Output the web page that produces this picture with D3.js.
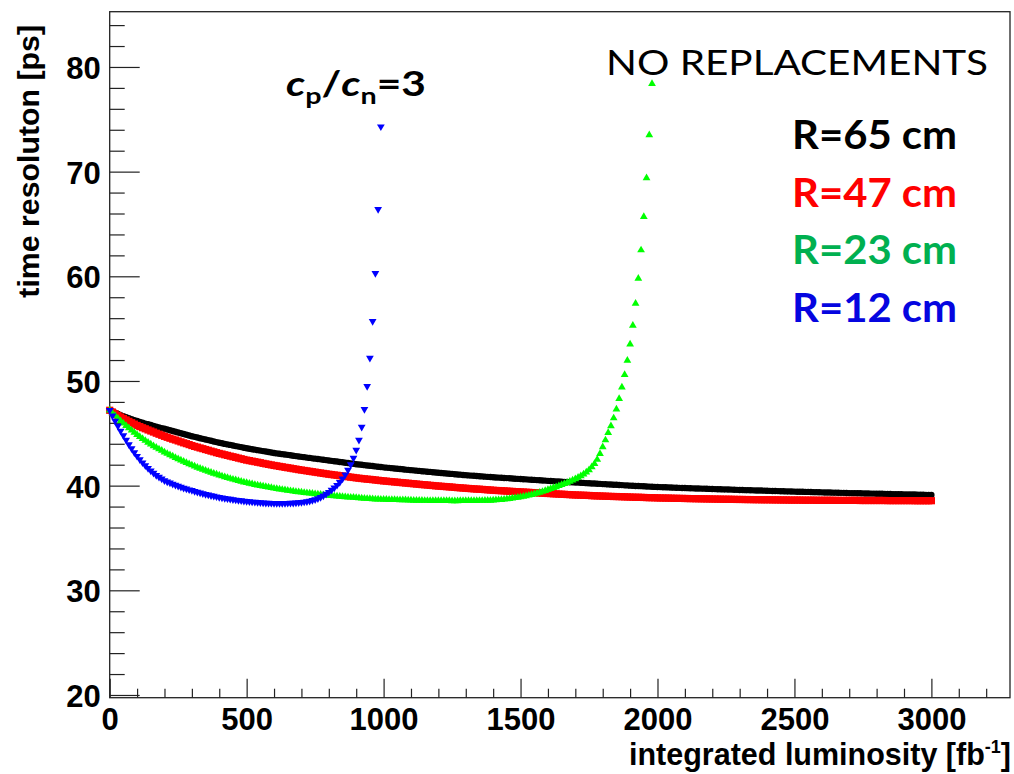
<!DOCTYPE html>
<html>
<head>
<meta charset="utf-8">
<script src="https://cdn.jsdelivr.net/npm/d3@7"></script>
<style>
body { margin: 0; background: #fff; }
</style>
</head>
<body>
<div id="chart"></div>
<script>
//integrated luminosity grid [fb-1], shared by all the series
var lumi = [
0,10,20,30,40,50,60,70,80,90,100,110,120,130,140,150,160,170,180,190,
200,210,220,230,240,250,260,270,280,290,300,310,320,330,340,350,360,370,380,390,
400,410,420,430,440,450,460,470,480,490,500,510,520,530,540,550,560,570,580,590,
600,610,620,630,640,650,660,670,680,690,700,710,720,730,740,750,760,770,780,790,
800,810,820,830,840,850,860,870,880,890,900,910,920,930,940,950,960,970,980,990,
1000,1010,1020,1030,1040,1050,1060,1070,1080,1090,1100,1110,1120,1130,1140,1150,1160,1170,1180,1190,
1200,1210,1220,1230,1240,1250,1260,1270,1280,1290,1300,1310,1320,1330,1340,1350,1360,1370,1380,1390,
1400,1410,1420,1430,1440,1450,1460,1470,1480,1490,1500,1510,1520,1530,1540,1550,1560,1570,1580,1590,
1600,1610,1620,1630,1640,1650,1660,1670,1680,1690,1700,1710,1720,1730,1740,1750,1760,1770,1780,1790,
1800,1810,1820,1830,1840,1850,1860,1870,1880,1890,1900,1910,1920,1930,1940,1950,1960,1970,1980,1990,
2000,2010,2020,2030,2040,2050,2060,2070,2080,2090,2100,2110,2120,2130,2140,2150,2160,2170,2180,2190,
2200,2210,2220,2230,2240,2250,2260,2270,2280,2290,2300,2310,2320,2330,2340,2350,2360,2370,2380,2390,
2400,2410,2420,2430,2440,2450,2460,2470,2480,2490,2500,2510,2520,2530,2540,2550,2560,2570,2580,2590,
2600,2610,2620,2630,2640,2650,2660,2670,2680,2690,2700,2710,2720,2730,2740,2750,2760,2770,2780,2790,
2800,2810,2820,2830,2840,2850,2860,2870,2880,2890,2900,2910,2920,2930,2940,2950,2960,2970,2980,2990,
3000];

//time resolution [ps], R=65 cm
var resR65 = [
47.20,47.08,46.96,46.85,46.74,46.64,46.54,46.44,46.35,46.26,
46.17,46.09,46.01,45.93,45.86,45.79,45.71,45.64,45.57,45.50,
45.43,45.36,45.29,45.22,45.15,45.08,45.00,44.93,44.86,44.79,
44.72,44.66,44.60,44.53,44.47,44.41,44.35,44.29,44.22,44.16,
44.10,44.05,43.99,43.94,43.89,43.84,43.78,43.73,43.68,43.62,
43.57,43.53,43.48,43.44,43.39,43.35,43.30,43.26,43.21,43.17,
43.12,43.08,43.05,43.01,42.97,42.94,42.90,42.86,42.82,42.79,
42.75,42.72,42.68,42.65,42.61,42.58,42.54,42.51,42.47,42.44,
42.40,42.37,42.33,42.30,42.26,42.23,42.19,42.16,42.12,42.09,
42.05,42.02,41.99,41.96,41.93,41.90,41.87,41.84,41.81,41.78,
41.75,41.72,41.70,41.67,41.64,41.62,41.59,41.56,41.53,41.51,
41.48,41.46,41.43,41.41,41.38,41.36,41.33,41.31,41.28,41.26,
41.23,41.21,41.18,41.16,41.14,41.12,41.09,41.07,41.05,41.02,
41.00,40.98,40.96,40.94,40.92,40.90,40.88,40.86,40.84,40.82,
40.80,40.78,40.77,40.75,40.73,40.72,40.70,40.68,40.66,40.65,
40.63,40.61,40.60,40.58,40.56,40.55,40.53,40.51,40.49,40.48,
40.46,40.44,40.43,40.41,40.40,40.38,40.36,40.35,40.33,40.32,
40.30,40.29,40.27,40.26,40.24,40.23,40.21,40.20,40.18,40.17,
40.15,40.14,40.12,40.11,40.09,40.08,40.06,40.05,40.03,40.02,
40.00,39.99,39.97,39.96,39.95,39.94,39.92,39.91,39.90,39.88,
39.87,39.86,39.85,39.84,39.83,39.82,39.81,39.80,39.79,39.78,
39.77,39.76,39.75,39.74,39.73,39.73,39.72,39.71,39.70,39.69,
39.68,39.67,39.66,39.65,39.64,39.64,39.63,39.62,39.61,39.60,
39.59,39.58,39.57,39.57,39.56,39.55,39.54,39.53,39.53,39.52,
39.51,39.50,39.49,39.49,39.48,39.47,39.46,39.45,39.45,39.44,
39.43,39.42,39.42,39.41,39.40,39.40,39.39,39.38,39.38,39.37,
39.36,39.35,39.35,39.34,39.33,39.33,39.32,39.31,39.31,39.30,
39.29,39.28,39.28,39.27,39.27,39.26,39.25,39.25,39.24,39.24,
39.23,39.22,39.22,39.21,39.21,39.20,39.19,39.19,39.18,39.18,
39.17,39.16,39.16,39.15,39.15,39.14,39.13,39.13,39.12,39.12,
39.11];

//R=47 cm
var resR47 = [
47.20,47.03,46.87,46.71,46.56,46.42,46.28,46.14,46.01,45.88,
45.75,45.64,45.53,45.43,45.32,45.22,45.12,45.01,44.91,44.81,
44.71,44.62,44.53,44.44,44.36,44.27,44.18,44.09,44.01,43.92,
43.83,43.75,43.68,43.60,43.53,43.45,43.38,43.30,43.23,43.15,
43.08,43.02,42.95,42.89,42.82,42.76,42.70,42.63,42.57,42.50,
42.44,42.39,42.34,42.29,42.24,42.19,42.13,42.08,42.03,41.98,
41.93,41.89,41.84,41.80,41.75,41.71,41.67,41.62,41.58,41.53,
41.49,41.45,41.41,41.37,41.33,41.29,41.25,41.21,41.17,41.13,
41.09,41.06,41.02,40.99,40.95,40.92,40.88,40.85,40.81,40.78,
40.74,40.71,40.68,40.65,40.62,40.60,40.57,40.54,40.51,40.48,
40.45,40.43,40.40,40.38,40.35,40.33,40.30,40.28,40.25,40.23,
40.20,40.18,40.15,40.13,40.10,40.08,40.06,40.03,40.01,39.98,
39.96,39.94,39.92,39.90,39.88,39.86,39.83,39.81,39.79,39.77,
39.75,39.73,39.71,39.69,39.67,39.66,39.64,39.62,39.60,39.58,
39.56,39.54,39.53,39.51,39.50,39.48,39.46,39.45,39.43,39.42,
39.40,39.39,39.37,39.36,39.34,39.33,39.31,39.30,39.28,39.27,
39.25,39.24,39.22,39.21,39.19,39.18,39.17,39.15,39.14,39.12,
39.11,39.10,39.09,39.08,39.07,39.06,39.04,39.03,39.02,39.01,
39.00,38.99,38.98,38.97,38.96,38.96,38.95,38.94,38.93,38.92,
38.91,38.90,38.89,38.89,38.88,38.87,38.86,38.85,38.85,38.84,
38.83,38.82,38.82,38.81,38.81,38.80,38.79,38.79,38.78,38.78,
38.77,38.77,38.76,38.76,38.75,38.75,38.74,38.74,38.73,38.73,
38.72,38.72,38.71,38.71,38.70,38.70,38.70,38.69,38.69,38.68,
38.68,38.68,38.67,38.67,38.67,38.66,38.66,38.66,38.65,38.65,
38.65,38.65,38.64,38.64,38.64,38.63,38.63,38.63,38.62,38.62,
38.62,38.62,38.62,38.61,38.61,38.61,38.61,38.61,38.60,38.60,
38.60,38.60,38.60,38.60,38.60,38.59,38.59,38.59,38.59,38.59,
38.59,38.59,38.59,38.59,38.58,38.58,38.58,38.58,38.58,38.58,
38.58,38.58,38.58,38.58,38.57,38.57,38.57,38.57,38.57,38.57,
38.57,38.57,38.57,38.57,38.56,38.56,38.56,38.56,38.56,38.56,
38.56];

//R=23 cm (0 - 1980 fb-1)
var resR23 = [
47.20,46.93,46.67,46.42,46.18,45.95,45.72,45.50,45.28,45.07,
44.87,44.67,44.48,44.30,44.12,43.95,43.79,43.64,43.49,43.35,
43.20,43.06,42.93,42.80,42.67,42.55,42.43,42.31,42.19,42.07,
41.96,41.85,41.74,41.64,41.54,41.44,41.35,41.26,41.17,41.08,
40.99,40.91,40.83,40.75,40.67,40.60,40.53,40.46,40.39,40.33,
40.27,40.21,40.15,40.09,40.04,39.99,39.94,39.89,39.84,39.79,
39.74,39.70,39.66,39.62,39.58,39.54,39.50,39.46,39.42,39.39,
39.36,39.33,39.30,39.27,39.24,39.21,39.18,39.15,39.12,39.09,
39.06,39.03,39.00,38.98,38.96,38.94,38.92,38.90,38.88,38.86,
38.84,38.82,38.80,38.78,38.76,38.74,38.72,38.71,38.70,38.69,
38.68,38.67,38.66,38.66,38.65,38.64,38.63,38.62,38.62,38.61,
38.60,38.59,38.59,38.58,38.58,38.57,38.57,38.56,38.56,38.56,
38.55,38.55,38.55,38.55,38.55,38.54,38.54,38.54,38.55,38.55,
38.55,38.55,38.55,38.56,38.56,38.57,38.57,38.58,38.59,38.59,
38.60,38.62,38.64,38.66,38.69,38.72,38.75,38.79,38.83,38.87,
38.92,38.96,39.01,39.07,39.13,39.20,39.27,39.35,39.43,39.52,
39.61,39.70,39.79,39.88,39.98,40.08,40.18,40.28,40.39,40.51,
40.64,40.78,40.93,41.09,41.27,41.50,41.78,42.10,42.50,43.05,
43.70,44.35,45.05,45.70,46.45,47.30,48.30,49.40,50.60,51.95,
53.50,55.30,57.40,59.80,62.50,65.70,69.40,73.50,78.40];

//R=12 cm (0 - 990 fb-1)
var resR12 = [
47.20,46.68,46.18,45.70,45.23,44.78,44.35,43.94,43.55,43.17,
42.82,42.50,42.20,41.92,41.66,41.42,41.20,41.00,40.82,40.65,
40.50,40.38,40.27,40.16,40.06,39.96,39.87,39.78,39.70,39.62,
39.55,39.47,39.39,39.32,39.25,39.18,39.12,39.06,39.00,38.95,
38.90,38.85,38.80,38.76,38.72,38.68,38.64,38.60,38.57,38.54,
38.51,38.48,38.45,38.43,38.41,38.39,38.37,38.35,38.34,38.33,
38.32,38.31,38.31,38.31,38.32,38.33,38.34,38.35,38.37,38.39,
38.42,38.45,38.49,38.54,38.60,38.68,38.78,38.90,39.04,39.20,
39.38,39.58,39.80,40.05,40.33,40.66,41.05,41.50,42.02,42.65,
43.40,44.35,45.60,47.30,49.50,52.20,55.70,60.30,66.40,74.30];

var seriesNames = ["R=65 cm", "R=47 cm", "R=23 cm", "R=12 cm"];
var seriesColors = ["#000000", "#ff0000", "#00ff00", "#0000ff"];
var legendColors = ["#000000", "#ff0000", "#00b050", "#0505e0"];

var yMajor = [20, 30, 40, 50, 60, 70, 80];
var yMinor = [22, 24, 26, 28, 32, 34, 36, 38, 42, 44, 46, 48, 52, 54, 56, 58, 62, 64, 66, 68, 72, 74, 76, 78, 82, 84];
var xMajor = [0, 500, 1000, 1500, 2000, 2500, 3000];
var xMinor = [100, 200, 300, 400, 600, 700, 800, 900, 1100, 1200, 1300, 1400, 1600, 1700, 1800, 1900,
              2100, 2200, 2300, 2400, 2600, 2700, 2800, 2900, 3100, 3200];

//setting up svg and frame
var width = 1014, height = 774;
var frame = {left: 109.7, top: 11.7, right: 1010, bottom: 697.7};
var axisFont = "'Liberation Sans', Arial, Helvetica, sans-serif";
var textFont = "Lato, 'Open Sans', sans-serif";

var svg = d3.select("#chart").append("svg")
    .attr("width", width)
    .attr("height", height)
    .style("background", "#fff");

var x = d3.scaleLinear().domain([0, 3287]).range([frame.left, frame.right]);
var y = d3.scaleLinear().domain([19.74, 85.28]).range([frame.bottom, frame.top]);

//y axis, ticks pointing inside the frame
var yAxis = svg.append("g")
    .attr("transform", "translate(" + frame.left + ",0)")
    .call(d3.axisLeft(y).tickValues(yMajor).tickSize(-30).tickPadding(9).tickFormat(d3.format("d")));
yAxis.select(".domain").remove();
yAxis.selectAll("text")
    .attr("dy", "0.37em")
    .style("font-family", axisFont)
    .style("font-weight", "bold")
    .style("font-size", "31px")
    .attr("fill", "#000");

var yAxisMinor = svg.append("g")
    .attr("transform", "translate(" + frame.left + ",0)")
    .call(d3.axisLeft(y).tickValues(yMinor).tickSize(-15).tickFormat(""));
yAxisMinor.select(".domain").remove();

//x axis
var xAxis = svg.append("g")
    .attr("transform", "translate(0," + frame.bottom + ")")
    .call(d3.axisBottom(x).tickValues(xMajor).tickSize(-19).tickPadding(10).tickFormat(d3.format("d")));
xAxis.select(".domain").remove();
xAxis.selectAll("text")
    .style("font-family", axisFont)
    .style("font-weight", "bold")
    .style("font-size", "31px")
    .attr("fill", "#000");

var xAxisMinor = svg.append("g")
    .attr("transform", "translate(0," + frame.bottom + ")")
    .call(d3.axisBottom(x).tickValues(xMinor).tickSize(-9).tickFormat(""));
xAxisMinor.select(".domain").remove();

svg.selectAll(".tick line").attr("stroke", "#222").attr("stroke-width", 1.2);

//frame
svg.append("rect")
    .attr("x", frame.left)
    .attr("y", frame.top)
    .attr("width", frame.right - frame.left)
    .attr("height", frame.bottom - frame.top)
    .attr("fill", "none")
    .attr("stroke", "#222")
    .attr("stroke-width", 1.3);

//markers
function drawSeries(vals, color, type, size, flip) {
    var sym = d3.symbol().type(type).size(size);
    svg.append("g").selectAll("path")
        .data(vals)
        .enter().append("path")
        .attr("d", sym)
        .attr("fill", color)
        .attr("transform", function(d, i) {
            return "translate(" + x(lumi[i]) + "," + y(d) + ")" + (flip ? " rotate(180)" : "");
        });
}
drawSeries(resR65, seriesColors[0], d3.symbolCircle, 32, false);
drawSeries(resR47, seriesColors[1], d3.symbolSquare, 52, false);
drawSeries(resR23, seriesColors[2], d3.symbolTriangle, 26, false);
drawSeries(resR12, seriesColors[3], d3.symbolTriangle, 26, true);

//axis titles
svg.append("text")
    .attr("x", 1011)
    .attr("y", 765)
    .attr("text-anchor", "end")
    .style("font-family", axisFont)
    .style("font-weight", "bold")
    .style("font-size", "30.5px")
    .html("integrated luminosity [fb<tspan dy='-12' font-size='18px'>-1</tspan><tspan dy='12'>]</tspan>");

svg.append("text")
    .attr("transform", "translate(39,25) rotate(-90)")
    .attr("text-anchor", "end")
    .style("font-family", axisFont)
    .style("font-weight", "bold")
    .style("font-size", "30.3px")
    .text("time resoluton [ps]");

//labels
svg.append("text")
    .attr("x", 606)
    .attr("y", 75)
    .attr("textLength", 382)
    .attr("lengthAdjust", "spacingAndGlyphs")
    .style("font-family", textFont)
    .style("font-size", "34px")
    .text("NO REPLACEMENTS");

var cpcn = svg.append("text")
    .attr("x", 286)
    .attr("y", 96)
    .attr("textLength", 140)
    .attr("lengthAdjust", "spacingAndGlyphs")
    .style("font-family", textFont)
    .style("font-weight", "bold")
    .style("font-size", "34px");
cpcn.append("tspan").style("font-style", "italic").text("c");
cpcn.append("tspan").attr("dy", 8).style("font-size", "23px").text("p");
cpcn.append("tspan").attr("dy", -8).text("/");
cpcn.append("tspan").style("font-style", "italic").text("c");
cpcn.append("tspan").attr("dy", 8).style("font-size", "23px").text("n");
cpcn.append("tspan").attr("dy", -8).text("=3");

var legendY = [149, 206.5, 264, 321.5];
svg.append("g").selectAll("text")
    .data(seriesNames)
    .enter().append("text")
    .attr("x", 792)
    .attr("y", function(d, i) { return legendY[i]; })
    .attr("textLength", 165)
    .attr("lengthAdjust", "spacingAndGlyphs")
    .attr("fill", function(d, i) { return legendColors[i]; })
    .style("font-family", textFont)
    .style("font-weight", "bold")
    .style("font-size", "40px")
    .text(function(d) { return d; });
</script>
</body>
</html>
